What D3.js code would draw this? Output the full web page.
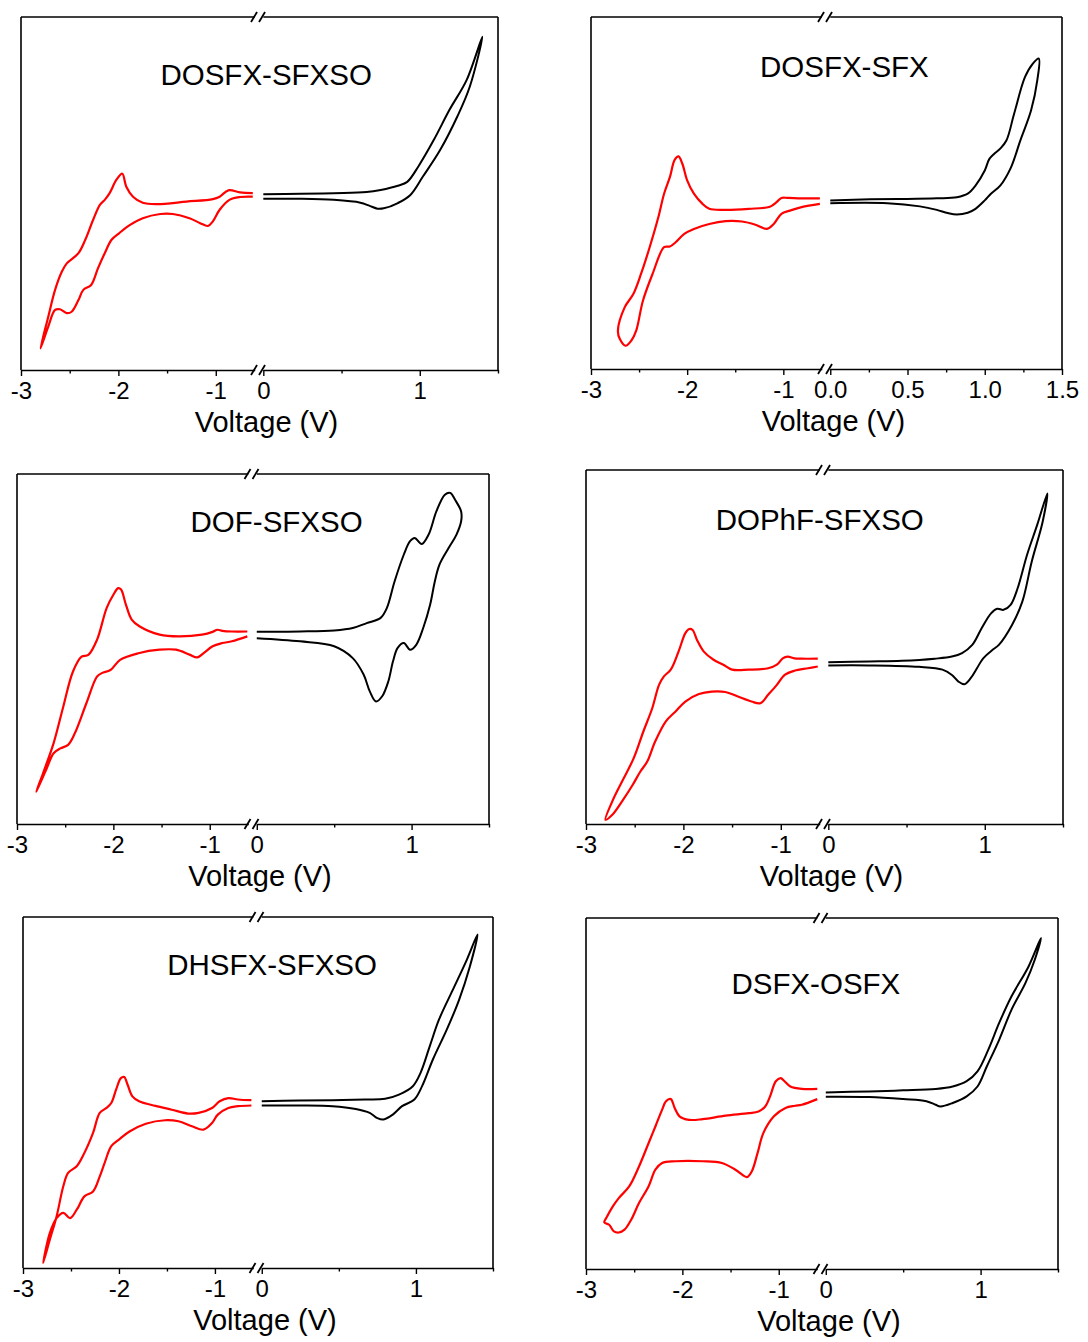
<!DOCTYPE html>
<html lang="en">
<head>
<meta charset="utf-8">
<title>Cyclic voltammograms</title>
<script src="https://cdn.jsdelivr.net/npm/d3@7"></script>
<style>
  body { margin: 0; background: #fff; }
  svg { display: block; font-family: "Liberation Sans", Arial, sans-serif; }
</style>
</head>
<body>
<script>
// panel titles
const titles = ["DOSFX-SFXSO", "DOSFX-SFX", "DOF-SFXSO", "DOPhF-SFXSO", "DHSFX-SFXSO", "DSFX-OSFX"];

// x ticks (left part -3..-0.6, right part 0..1.5)
const leftMajor = [-3, -2, -1];
const leftMajorLabels = ["-3", "-2", "-1"];
const leftMinor = [-2.5, -1.5];
const rightMajorA = [0, 1];
const rightMajorLabelsA = ["0", "1"];
const rightMinorA = [0.5, 1.5];
const rightMajorB = [0, 0.5, 1, 1.5];
const rightMajorLabelsB = ["0.0", "0.5", "1.0", "1.5"];
const rightMinorB = [0.25, 0.75, 1.25];
const xLabel = "Voltage (V)";

// curves: [voltage, current (arbitrary, % of panel height)]
const p1Red = [[-0.62,50.1],[-0.75,50.3],[-0.87,50.9],[-0.96,49.1],[-1.03,48.4],[-1.30,47.7],[-1.61,47.0],[-1.75,47.4],[-1.85,49.1],[-1.92,52.0],[-1.96,55.6],[-2.02,53.9],[-2.09,50.1],[-2.14,48.2],[-2.19,46.8],[-2.26,42.5],[-2.34,36.9],[-2.41,33.1],[-2.53,30.2],[-2.58,27.9],[-2.65,22.7],[-2.72,15.1],[-2.80,6.1],[-2.72,12.3],[-2.65,17.0],[-2.60,17.2],[-2.53,16.1],[-2.48,16.5],[-2.41,19.8],[-2.36,22.7],[-2.28,24.1],[-2.21,28.8],[-2.14,33.1],[-2.07,36.9],[-1.99,38.8],[-1.88,41.1],[-1.75,43.0],[-1.57,44.2],[-1.44,44.2],[-1.27,43.0],[-1.16,41.6],[-1.08,40.8],[-1.03,42.1],[-0.96,45.4],[-0.86,48.2],[-0.75,49.0],[-0.62,49.1]];
const p1Black = [[0,49.8],[0.24,49.9],[0.45,50.1],[0.66,50.4],[0.75,51.0],[0.86,52.2],[0.92,53.3],[0.99,57.6],[1.09,65.2],[1.19,73.7],[1.30,82.2],[1.40,94.4],[1.32,80.3],[1.24,71.8],[1.13,62.3],[1.02,54.8],[0.94,49.6],[0.86,47.3],[0.77,45.8],[0.73,45.7],[0.68,46.5],[0.62,47.4],[0.45,48.2],[0.24,48.5],[0,48.5]];

const p2Red = [[-0.62,48.5],[-0.81,48.5],[-0.95,48.6],[-1.02,48.6],[-1.07,47.4],[-1.14,46.1],[-1.36,45.5],[-1.60,45.2],[-1.77,45.5],[-1.84,46.9],[-1.93,49.8],[-2.00,53.6],[-2.05,58.3],[-2.09,60.4],[-2.13,59.4],[-2.18,54.5],[-2.24,49.8],[-2.30,43.1],[-2.39,34.6],[-2.48,27.0],[-2.56,21.3],[-2.65,17.5],[-2.72,10.9],[-2.70,8.5],[-2.64,6.6],[-2.58,8.1],[-2.53,10.9],[-2.46,19.4],[-2.36,27.0],[-2.24,34.6],[-2.18,34.8],[-2.12,36.0],[-2.03,38.4],[-1.93,39.8],[-1.77,41.2],[-1.60,42.0],[-1.43,41.9],[-1.29,41.0],[-1.17,39.8],[-1.10,41.2],[-1.02,44.1],[-0.93,45.0],[-0.81,46.0],[-0.62,46.9]];
const p2Black = [[0,47.9],[0.26,48.2],[0.48,48.3],[0.69,48.5],[0.82,48.8],[0.89,49.8],[0.94,52.1],[1.0,56.4],[1.03,59.7],[1.06,61.1],[1.10,62.6],[1.14,64.9],[1.19,72.5],[1.26,82.9],[1.31,86.7],[1.35,88.2],[1.34,82.0],[1.30,73.5],[1.23,64.9],[1.17,57.3],[1.10,52.1],[1.04,49.8],[1.0,47.9],[0.94,45.5],[0.89,44.4],[0.82,43.9],[0.76,44.3],[0.69,45.2],[0.58,46.2],[0.37,47.1],[0,47.1]];

const p3Red = [[-0.61,55.0],[-0.77,55.0],[-0.87,55.2],[-0.92,55.5],[-0.97,54.9],[-1.08,54.1],[-1.32,53.6],[-1.52,54.1],[-1.73,56.5],[-1.81,58.4],[-1.87,62.7],[-1.92,67.0],[-1.95,67.4],[-2.00,65.5],[-2.07,61.7],[-2.17,52.6],[-2.26,48.3],[-2.33,47.8],[-2.42,43.5],[-2.52,33.5],[-2.62,23.1],[-2.73,14.5],[-2.80,9.2],[-2.69,16.0],[-2.62,20.2],[-2.55,21.6],[-2.47,22.6],[-2.40,25.9],[-2.28,34.5],[-2.17,42.1],[-2.12,43.1],[-2.03,44.0],[-1.93,46.9],[-1.74,48.8],[-1.52,49.8],[-1.35,49.8],[-1.21,48.4],[-1.13,47.6],[-1.06,48.9],[-0.97,50.8],[-0.87,51.7],[-0.77,52.2],[-0.61,53.6]];
const p3Black = [[0,54.9],[0.28,55.0],[0.50,55.3],[0.62,56.0],[0.71,57.4],[0.80,58.9],[0.84,61.7],[0.89,69.3],[0.95,77.0],[0.99,80.8],[1.02,81.7],[1.065,80.0],[1.11,82.7],[1.16,89.3],[1.215,94.1],[1.25,94.6],[1.28,92.7],[1.32,89.3],[1.32,86.5],[1.29,82.7],[1.24,78.9],[1.18,74.1],[1.15,69.3],[1.12,62.7],[1.075,56.0],[1.03,51.2],[0.99,49.8],[0.95,51.7],[0.91,50.3],[0.88,46.5],[0.85,40.8],[0.81,36.5],[0.77,35.0],[0.73,37.9],[0.69,42.7],[0.62,47.4],[0.50,50.8],[0.28,52.2],[0,53.1]];

const p4Red = [[-0.62,46.7],[-0.79,46.7],[-0.86,46.8],[-0.93,47.3],[-0.98,46.8],[-1.04,45.0],[-1.13,44.0],[-1.33,43.6],[-1.50,43.6],[-1.59,45.0],[-1.69,46.4],[-1.79,48.7],[-1.86,52.0],[-1.905,54.8],[-1.94,55.1],[-1.98,53.9],[-2.05,48.7],[-2.13,43.6],[-2.20,41.7],[-2.25,39.3],[-2.32,32.7],[-2.41,26.2],[-2.51,18.6],[-2.63,12.0],[-2.73,6.4],[-2.80,1.2],[-2.73,2.6],[-2.63,6.4],[-2.52,11.1],[-2.44,14.9],[-2.37,17.7],[-2.29,23.3],[-2.18,29.0],[-2.08,31.8],[-1.98,34.6],[-1.84,36.7],[-1.71,37.4],[-1.57,37.3],[-1.44,36.0],[-1.30,34.6],[-1.21,34.1],[-1.13,36.5],[-1.04,39.3],[-0.96,42.1],[-0.86,43.3],[-0.72,44.0],[-0.62,44.5]];
const p4Black = [[0,45.7],[0.26,45.9],[0.47,46.1],[0.68,46.7],[0.79,47.3],[0.855,48.3],[0.92,50.6],[0.98,55.3],[1.04,59.5],[1.08,60.8],[1.12,60.5],[1.165,61.9],[1.21,66.6],[1.27,76.0],[1.335,84.5],[1.40,93.4],[1.37,85.4],[1.30,74.1],[1.24,62.8],[1.175,56.3],[1.09,50.6],[1.05,49.2],[0.99,46.8],[0.95,44.0],[0.91,41.2],[0.87,39.5],[0.83,40.3],[0.79,42.1],[0.73,43.6],[0.58,44.4],[0.26,44.8],[0,44.8]];

const p5Red = [[-0.62,47.8],[-0.76,48.0],[-0.86,48.4],[-0.95,47.5],[-1.03,45.6],[-1.17,44.2],[-1.28,44.0],[-1.45,45.1],[-1.62,46.2],[-1.79,47.5],[-1.86,48.9],[-1.91,52.2],[-1.945,54.4],[-1.98,54.1],[-2.03,50.8],[-2.08,47.0],[-2.13,45.6],[-2.20,44.2],[-2.27,38.5],[-2.36,32.8],[-2.44,29.0],[-2.53,27.1],[-2.58,23.3],[-2.65,14.7],[-2.72,8.1],[-2.79,1.4],[-2.72,10.0],[-2.65,14.2],[-2.58,15.7],[-2.51,14.2],[-2.44,16.6],[-2.36,20.4],[-2.27,21.8],[-2.20,26.1],[-2.15,29.9],[-2.08,34.7],[-2.00,36.6],[-1.89,38.9],[-1.72,41.1],[-1.52,42.1],[-1.38,41.8],[-1.24,40.4],[-1.12,39.4],[-1.03,41.3],[-0.97,43.7],[-0.86,45.6],[-0.76,46.1],[-0.62,46.3]];
const p5Black = [[0,47.5],[0.24,47.7],[0.46,47.8],[0.67,48.0],[0.80,48.2],[0.89,49.4],[0.98,51.8],[1.03,55.6],[1.09,63.2],[1.15,70.8],[1.24,79.3],[1.33,87.8],[1.40,95.0],[1.35,85.9],[1.28,76.4],[1.20,67.9],[1.11,59.4],[1.04,51.8],[0.99,48.0],[0.91,46.1],[0.85,43.7],[0.79,42.3],[0.75,42.7],[0.70,44.2],[0.61,45.3],[0.46,46.1],[0.24,46.3],[0,46.3]];

const p6Red = [[-0.60,51.3],[-0.76,51.3],[-0.88,52.0],[-0.94,53.5],[-0.98,54.4],[-1.03,53.5],[-1.09,49.2],[-1.14,46.3],[-1.21,44.9],[-1.31,44.4],[-1.55,43.7],[-1.79,42.7],[-1.93,42.5],[-2.03,43.5],[-2.08,45.9],[-2.12,48.4],[-2.17,47.8],[-2.21,45.4],[-2.28,40.6],[-2.35,35.9],[-2.45,29.2],[-2.55,23.6],[-2.66,20.2],[-2.72,17.9],[-2.79,14.5],[-2.81,13.3],[-2.76,12.6],[-2.71,10.7],[-2.66,10.4],[-2.60,11.2],[-2.53,14.1],[-2.45,18.8],[-2.35,23.6],[-2.28,28.3],[-2.21,30.2],[-2.07,30.7],[-1.79,30.7],[-1.59,30.2],[-1.45,28.3],[-1.33,26.2],[-1.28,27.8],[-1.22,33.0],[-1.16,38.7],[-1.05,43.5],[-0.93,45.9],[-0.83,46.5],[-0.76,46.8],[-0.60,48.4]];
const p6Black = [[0,50.3],[0.28,50.6],[0.50,50.9],[0.71,51.3],[0.82,52.0],[0.91,53.5],[0.98,56.3],[1.05,62.5],[1.12,70.1],[1.20,77.7],[1.31,86.2],[1.39,94.3],[1.35,88.1],[1.29,81.5],[1.20,73.9],[1.12,65.3],[1.04,57.7],[0.98,52.0],[0.91,49.2],[0.82,47.3],[0.74,46.3],[0.71,46.8],[0.65,47.8],[0.50,48.4],[0.28,49.0],[0,49.1]];

const redCurves = [p1Red, p2Red, p3Red, p4Red, p5Red, p6Red];
const blackCurves = [p1Black, p2Black, p3Black, p4Black, p5Black, p6Black];

// layout: frame box [x, y, w, h] and title placement [fraction of width, offset from top]
const boxes = [[21,17,477,353],[591,17,471,352],[17,474,472,350],[586,470,477,354],[23,917,470,351],[586,918,472,351]];
const titlePos = [[0.514,68],[0.538,60],[0.55,58],[0.49,60],[0.53,58],[0.487,76]];
const tickStyle = [0, 1, 0, 0, 0, 0]; // 1 = 0.0/0.5/1.0/1.5 labels

const W = 1088, H = 1342;
const svg = d3.select("body").append("svg")
  .attr("width", W)
  .attr("height", H);

function slashes(g, x, y) {
  // the "//" axis break mark
  [-4, 4].forEach(function (dx) {
    g.append("line")
      .attr("x1", x + dx - 3).attr("y1", y + 5)
      .attr("x2", x + dx + 3).attr("y2", y - 5)
      .attr("stroke", "#000").attr("stroke-width", 1.8);
  });
}

function styleAxis(sel) {
  sel.attr("font-family", null).attr("font-size", null);
  sel.select(".domain").attr("stroke-width", 1.6);
  sel.selectAll(".tick line").attr("stroke-width", 1.4);
  sel.selectAll(".tick text").attr("font-size", 24).attr("fill", "#000");
}

boxes.forEach(function (b, i) {
  const [bx, by, bw, bh] = b;
  const g = svg.append("g").attr("transform", "translate(" + bx + "," + by + ")");

  const xLeft = d3.scaleLinear().domain([-3, -0.6]).range([0, 0.49 * bw]);
  const xRight = d3.scaleLinear().domain([0, 1.5]).range([0.508 * bw, bw]);
  const y = d3.scaleLinear().domain([0, 100]).range([bh, 0]);

  const rMajor = tickStyle[i] ? rightMajorB : rightMajorA;
  const rLabels = tickStyle[i] ? rightMajorLabelsB : rightMajorLabelsA;
  const rMinor = tickStyle[i] ? rightMinorB : rightMinorA;

  // frame: left, right, top (with break)
  g.append("line").attr("x1", 0).attr("y1", 0).attr("x2", 0).attr("y2", bh)
    .attr("stroke", "#000").attr("stroke-width", 1.6);
  g.append("line").attr("x1", bw).attr("y1", 0).attr("x2", bw).attr("y2", bh)
    .attr("stroke", "#000").attr("stroke-width", 1.6);
  g.append("line").attr("x1", 0).attr("y1", 0).attr("x2", xLeft.range()[1]).attr("y2", 0)
    .attr("stroke", "#000").attr("stroke-width", 1.6);
  g.append("line").attr("x1", xRight.range()[0]).attr("y1", 0).attr("x2", bw).attr("y2", 0)
    .attr("stroke", "#000").attr("stroke-width", 1.6);

  // bottom axes
  const axL = g.append("g").attr("transform", "translate(0," + bh + ")")
    .call(d3.axisBottom(xLeft).tickValues(leftMajor).tickSize(6).tickSizeOuter(0).tickPadding(6)
      .tickFormat(function (d, k) { return leftMajorLabels[k]; }));
  styleAxis(axL);
  const axLm = g.append("g").attr("transform", "translate(0," + bh + ")")
    .call(d3.axisBottom(xLeft).tickValues(leftMinor).tickSize(3.5).tickFormat(""));
  axLm.select(".domain").remove();
  styleAxis(axLm);

  const axR = g.append("g").attr("transform", "translate(0," + bh + ")")
    .call(d3.axisBottom(xRight).tickValues(rMajor).tickSize(6).tickSizeOuter(0).tickPadding(6)
      .tickFormat(function (d, k) { return rLabels[k]; }));
  styleAxis(axR);
  const axRm = g.append("g").attr("transform", "translate(0," + bh + ")")
    .call(d3.axisBottom(xRight).tickValues(rMinor).tickSize(3.5).tickFormat(""));
  axRm.select(".domain").remove();
  styleAxis(axRm);

  // break marks
  const bc = (xLeft.range()[1] + xRight.range()[0]) / 2;
  slashes(g, bc - 1, 0);
  slashes(g, bc - 1, bh);

  // curves
  const lineL = d3.line()
    .x(function (d) { return xLeft(d[0]); })
    .y(function (d) { return y(d[1]); })
    .curve(d3.curveCatmullRom.alpha(0.5));
  const lineR = d3.line()
    .x(function (d) { return xRight(d[0]); })
    .y(function (d) { return y(d[1]); })
    .curve(d3.curveCatmullRom.alpha(0.5));

  g.append("path").datum(redCurves[i])
    .attr("d", lineL)
    .attr("fill", "none").attr("stroke", "#ff0000").attr("stroke-width", 2.2)
    .attr("stroke-linejoin", "round");
  g.append("path").datum(blackCurves[i])
    .attr("d", lineR)
    .attr("fill", "none").attr("stroke", "#000").attr("stroke-width", 2)
    .attr("stroke-linejoin", "round");

  // texts
  g.append("text")
    .attr("x", bw * titlePos[i][0]).attr("y", titlePos[i][1])
    .attr("text-anchor", "middle").attr("font-size", 29.5).attr("fill", "#000")
    .text(titles[i]);
  g.append("text")
    .attr("x", bw / 2 + 7).attr("y", bh + 62)
    .attr("text-anchor", "middle").attr("font-size", 29).attr("fill", "#000")
    .text(xLabel);
});
</script>
</body>
</html>
